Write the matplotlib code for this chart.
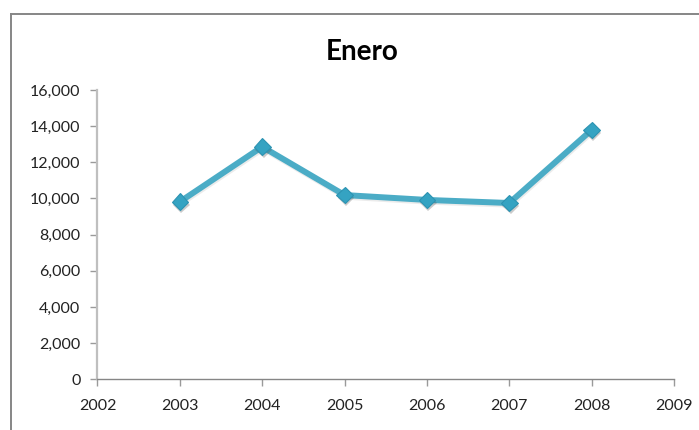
import matplotlib
matplotlib.use("Agg")
import matplotlib.pyplot as plt
import matplotlib.patheffects as pe
from matplotlib.lines import Line2D
from matplotlib.ticker import FuncFormatter, MultipleLocator

# Data
years = [2003, 2004, 2005, 2006, 2007, 2008]
values = [9820, 12860, 10190, 9920, 9750, 13790]
title = "Enero"
x_limits = (2002, 2009)
y_limits = (0, 16000)
y_step = 2000

W, H = 699, 430
fig = plt.figure(figsize=(W / 100, H / 100), dpi=100)
fig.patch.set_facecolor("white")

# Chart-area frame (left and top edges visible)
frame_color = "#868686"
fig.add_artist(Line2D([11 / W, 11 / W], [0, 1 - 14 / H], transform=fig.transFigure,
                      color=frame_color, lw=1.4))
fig.add_artist(Line2D([11 / W, 1], [1 - 14 / H, 1 - 14 / H], transform=fig.transFigure,
                      color=frame_color, lw=1.4))

ax = fig.add_axes([97.5 / W, 50.7 / H, (674 - 97.5) / W, (379.3 - 90) / H])
ax.set_xlim(*x_limits)
ax.set_ylim(*y_limits)

line_color = "#4BACC6"
ax.plot(years, values, color=line_color, lw=4.3, solid_capstyle="round",
        solid_joinstyle="round", zorder=3,
        path_effects=[pe.SimpleLineShadow(offset=(0.6, -1.2), shadow_color="#7f7f7f",
                                          alpha=0.15), pe.Normal()])
ax.plot(years, values, linestyle="none", marker="D", markersize=8.5,
        markerfacecolor="#35A3C2", markeredgecolor="#2C93B2", markeredgewidth=0.8,
        zorder=4,
        path_effects=[pe.SimplePatchShadow(offset=(1, -2), shadow_rgbFace="#555555",
                                           alpha=0.3), pe.Normal()])

# Axes styling
for side in ("top", "right"):
    ax.spines[side].set_visible(False)
ax.spines["left"].set_color("#BFBFBF")
ax.spines["left"].set_linewidth(1.6)
ax.spines["bottom"].set_color("#868686")
ax.spines["bottom"].set_linewidth(1.0)

ax.yaxis.set_major_locator(MultipleLocator(y_step))
ax.xaxis.set_major_locator(MultipleLocator(1))
ax.yaxis.set_major_formatter(FuncFormatter(lambda v, p: f"{int(v):,}"))
ax.xaxis.set_major_formatter(FuncFormatter(lambda v, p: f"{int(v)}"))

ax.tick_params(axis="y", direction="out", length=4.8, width=1.0, color="#9a9a9a",
               pad=7.5, labelsize=11.5, labelcolor="#222222")
ax.tick_params(axis="x", direction="out", length=5, width=1.0, color="#9a9a9a",
               pad=9.5, labelsize=11.5, labelcolor="#222222")
for lab in ax.get_xticklabels() + ax.get_yticklabels():
    lab.set_fontfamily("Lato")

fig.text(362 / W, 1 - 60 / H, title, ha="center", va="baseline",
         fontsize=20, fontweight="bold", family="Lato", color="black")

fig.savefig("out.png", dpi=100, facecolor="white")
